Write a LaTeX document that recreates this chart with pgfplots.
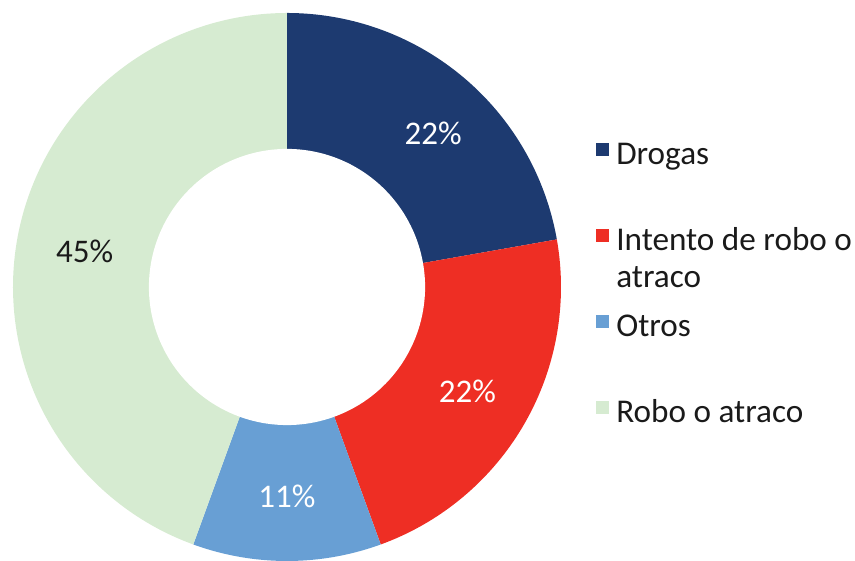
\documentclass[border=0pt]{standalone}
\usepackage{pgfplots}
\pgfplotsset{compat=1.18}
\usepackage{fontspec}
\setmainfont{Carlito}
\definecolor{cA}{HTML}{1D3A70}
\definecolor{cB}{HTML}{EE2E24}
\definecolor{cC}{HTML}{689FD4}
\definecolor{cD}{HTML}{D6EBD1}
\definecolor{txt}{HTML}{1A1A1A}
% data (counts)
\def\vA{2}\def\vB{2}\def\vC{1}\def\vD{4}
\pgfmathsetmacro{\tot}{\vA+\vB+\vC+\vD}
\pgfmathsetmacro{\aZ}{90}
\pgfmathsetmacro{\aA}{\aZ-360*\vA/\tot}
\pgfmathsetmacro{\aB}{\aA-360*\vB/\tot}
\pgfmathsetmacro{\aC}{\aB-360*\vC/\tot}
\pgfmathsetmacro{\aD}{\aC-360*\vD/\tot}
\pgfmathsetmacro{\mA}{(\aZ+\aA)/2}
\pgfmathsetmacro{\mB}{(\aA+\aB)/2}
\pgfmathsetmacro{\mC}{(\aB+\aC)/2}
\pgfmathsetmacro{\mD}{(\aC+\aD)/2}
\begin{document}
\begin{tikzpicture}
\begin{axis}[
  scale only axis, width=427.5pt, height=279.5pt,
  xmin=-1.0474, xmax=2.0730, ymin=-0.9927, ymax=1.0474,
  hide axis, clip=false,
  legend cell align=left,
  legend style={at={(axis cs:1.128,0.533)}, anchor=north west, draw=none, fill=none,
    inner sep=0pt, outer sep=0pt, row sep=0pt, column sep=3.6pt,
    font=\fontsize{16.6}{18.5}\selectfont, text=txt,
    nodes={inner sep=0pt, outer sep=0pt, text height=12pt, text depth=31pt, anchor=base west}},
  legend image code/.code={\fill[#1] (0pt,4.5pt) rectangle (6.5pt,11pt);},
]
\path (rel axis cs:0,0) rectangle (rel axis cs:1,1);
\addplot[fill=cA, draw=none, domain=\aA:\aZ, samples=80] ({cos(x)},{sin(x)}) -- (axis cs:0,0) -- cycle;
\addlegendentry{Drogas}
\addplot[fill=cB, draw=none, domain=\aB:\aA, samples=80] ({cos(x)},{sin(x)}) -- (axis cs:0,0) -- cycle;
\addlegendentry{\begin{tabular}[t]{@{}l@{}}Intento de robo o\\atraco\end{tabular}}
\addplot[fill=cC, draw=none, domain=\aC:\aB, samples=60] ({cos(x)},{sin(x)}) -- (axis cs:0,0) -- cycle;
\addlegendentry{Otros}
\addplot[fill=cD, draw=none, domain=\aD:\aC, samples=120] ({cos(x)},{sin(x)}) -- (axis cs:0,0) -- cycle;
\addlegendentry{Robo o atraco}
\addplot[fill=white, draw=none, domain=0:360, samples=180, forget plot] ({0.504*cos(x)},{0.504*sin(x)}) -- cycle;
\node[text=white, font=\fontsize{16.5}{18}\selectfont] at (axis cs:{0.775*cos(\mA-3.5)},{0.775*sin(\mA-3.5)}) {22\%};
\node[text=white, font=\fontsize{16.5}{18}\selectfont] at (axis cs:{0.76*cos(\mB)},{0.76*sin(\mB)}) {22\%};
\node[text=white, font=\fontsize{16.5}{18}\selectfont] at (axis cs:{0.765*cos(\mC)},{0.765*sin(\mC)}) {11\%};
\node[text=txt, font=\fontsize{16.5}{18}\selectfont] at (axis cs:{0.75*cos(\mD)},{0.75*sin(\mD)}) {45\%};
\end{axis}
\end{tikzpicture}
\end{document}
